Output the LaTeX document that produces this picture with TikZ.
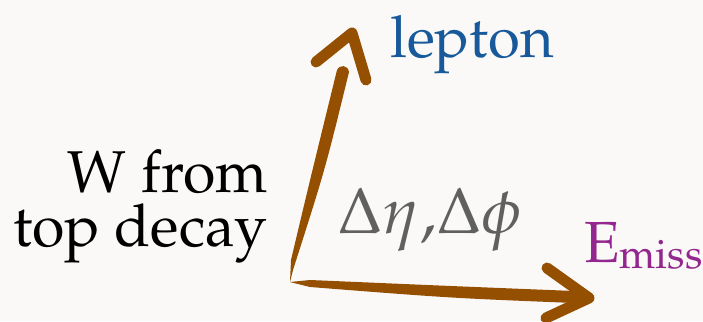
\documentclass[tikz,border=0pt]{standalone}
\usepackage[T1]{fontenc}
\usepackage{mathpazo}
\definecolor{bgc}{HTML}{FAF9F7}
\definecolor{brush}{HTML}{944F00}
\definecolor{lepc}{HTML}{17599A}
\definecolor{misc}{HTML}{93278F}
\definecolor{grc}{HTML}{606060}
\tikzset{
  big/.style={font=\fontsize{58}{53}\selectfont, inner sep=0pt},
  shaft/.style={fill=brush, draw=none},
  head/.style={draw=brush, line width=11pt, line join=round, line cap=round},
}
\begin{document}
\begin{tikzpicture}[x=1pt,y=-1pt]
\fill[bgc] (0,0) rectangle (703,321);
\useasboundingbox (0,0) rectangle (703,321);
% origin and tips
\coordinate (o) at (290,282);
\coordinate (upA) at (352,33);
\coordinate (rtA) at (589,298);
% up arrow shaft
\fill[shaft] (o) -- (291,260) .. controls (310,180) .. (337,70) .. controls (340,64) and (348,65) .. (349,72) .. controls (325,170) .. (293,270) -- cycle;
% up arrow head
\draw[head] (316,62) -- (upA) -- (366,80);
% right arrow shaft
\fill[shaft] (o) -- (310,280) .. controls (450,286) .. (574,291) .. controls (580,292) and (580,302) .. (574,303) .. controls (450,298) .. (310,287) -- cycle;
% right arrow head
\draw[head] (547,268) -- (rtA) -- (546,318);
% texts
\node[big, anchor=base west, text=lepc] (lep) at (390,58) {lepton};
\node[big, font=\fontsize{59}{54}\selectfont, anchor=base east, align=right] (w) at (268,246) {W from\\top decay};
\node[big, font=\fontsize{65}{65}\selectfont, anchor=base west, text=grc] (d) at (337,233) {$\Delta\eta{,}\Delta\phi$};
\node[big, anchor=base west, text=misc] (e) at (584,262) {E\raisebox{-6pt}{\fontsize{41}{41}\selectfont miss}};
\end{tikzpicture}
\end{document}
